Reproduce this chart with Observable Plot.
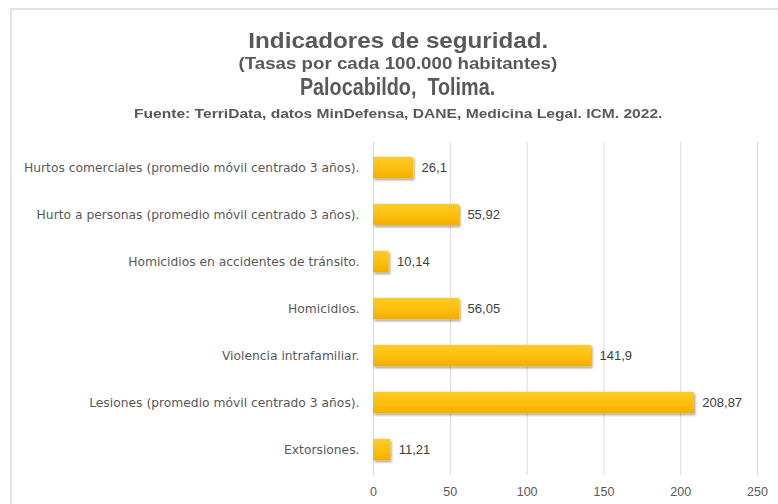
<!DOCTYPE html>
<html>
<head>
<meta charset="utf-8">
<script src="https://cdn.jsdelivr.net/npm/d3@7"></script>
<script src="https://cdn.jsdelivr.net/npm/@observablehq/plot@0.6"></script>
<style>
  html, body { margin: 0; padding: 0; background: #fff; }
  body { width: 778px; height: 504px; overflow: hidden; position: relative; font-family: "Liberation Sans", Arial, sans-serif; }
  #frame { position: absolute; left: 10px; top: 8px; width: 790px; height: 520px; border: 2px solid #e3e3e3; box-sizing: border-box; }
  .t { position: absolute; left: 0; width: 796px; text-align: center; color: #595959; font-weight: bold; white-space: nowrap; line-height: 1; }
  .t span { display: inline-block; transform-origin: 50% 50%; }
  #chart { position: absolute; left: 0; top: 0; }
</style>
</head>
<body>
<div id="frame"></div>
<div id="chart"></div>
<div class="t" style="top:30px;font-size:22px;"><span style="transform:scaleX(1.1);">Indicadores de seguridad.</span></div>
<div class="t" style="top:55px;font-size:17px;"><span style="transform:scaleX(1.1);">(Tasas por cada 100.000 habitantes)</span></div>
<div class="t" style="top:75.5px;font-size:23px;"><span style="transform:scaleX(0.86);">Palocabildo,&nbsp; Tolima.</span></div>
<div class="t" style="top:106.5px;font-size:13px;"><span style="transform:scaleX(1.2);">Fuente: TerriData, datos MinDefensa, DANE, Medicina Legal. ICM. 2022.</span></div>
<script>
const categories = [
  "Hurtos comerciales (promedio móvil centrado 3 años).",
  "Hurto a personas (promedio móvil centrado 3 años).",
  "Homicidios en accidentes de tránsito.",
  "Homicidios.",
  "Violencia intrafamiliar.",
  "Lesiones (promedio móvil centrado 3 años).",
  "Extorsiones."
];
const values = [26.1, 55.92, 10.14, 56.05, 141.9, 208.87, 11.21];
const valueLabels = ["26,1", "55,92", "10,14", "56,05", "141,9", "208,87", "11,21"];
const xTicks = [0, 50, 100, 150, 200, 250];

const data = categories.map((c, i) => ({cat: c, v: values[i], label: valueLabels[i]}));

const chart = Plot.plot({
  width: 778,
  height: 504,
  marginLeft: 373,
  marginRight: 21,
  marginTop: 142,
  marginBottom: 29,
  style: {fontFamily: "'Liberation Sans', Arial, sans-serif", background: "transparent"},
  x: {domain: [0, 250], ticks: xTicks, label: null},
  y: {domain: categories, padding: 0, label: null},
  marks: [
    Plot.gridX(xTicks, {stroke: "#d9d9d9", strokeOpacity: 1, strokeWidth: 1}),
    Plot.barX(data, {x: "v", y: "cat", fill: "url(#barGrad)", insetTop: 12.8, insetBottom: 12.8}),
    Plot.text(data, {x: "v", y: "cat", text: "label", textAnchor: "start", dx: 8, fontSize: 13, fill: "#404040"}),
    Plot.axisY({tickSize: 0, tickPadding: 14, fontSize: 12.3, fill: "#595959", fontFamily: "'DejaVu Sans', sans-serif"}),
    Plot.axisX(xTicks, {tickSize: 0, tickPadding: 12, fontSize: 12.5, fill: "#595959", tickFormat: d => String(d)})
  ]
});

const defs = d3.select(chart).insert("defs", ":first-child");
const g = defs.append("linearGradient").attr("id", "barGrad").attr("x1", 0).attr("y1", 0).attr("x2", 0).attr("y2", 1);
g.append("stop").attr("offset", "0%").attr("stop-color", "#FFCA2C");
g.append("stop").attr("offset", "55%").attr("stop-color", "#FDBE0A");
g.append("stop").attr("offset", "100%").attr("stop-color", "#F2AE00");
const f = defs.append("filter").attr("id", "shadow").attr("x", "-10%").attr("y", "-30%").attr("width", "130%").attr("height", "170%");
f.append("feDropShadow").attr("dx", 1.5).attr("dy", 2).attr("stdDeviation", 1.2).attr("flood-color", "#000").attr("flood-opacity", 0.35);
d3.select(chart).selectAll("rect").filter(function() { return this.getAttribute("fill") === "url(#barGrad)" || (this.parentNode && this.parentNode.getAttribute("fill") === "url(#barGrad)"); }).attr("filter", "url(#shadow)");

document.getElementById("chart").appendChild(chart);
</script>
</body>
</html>
